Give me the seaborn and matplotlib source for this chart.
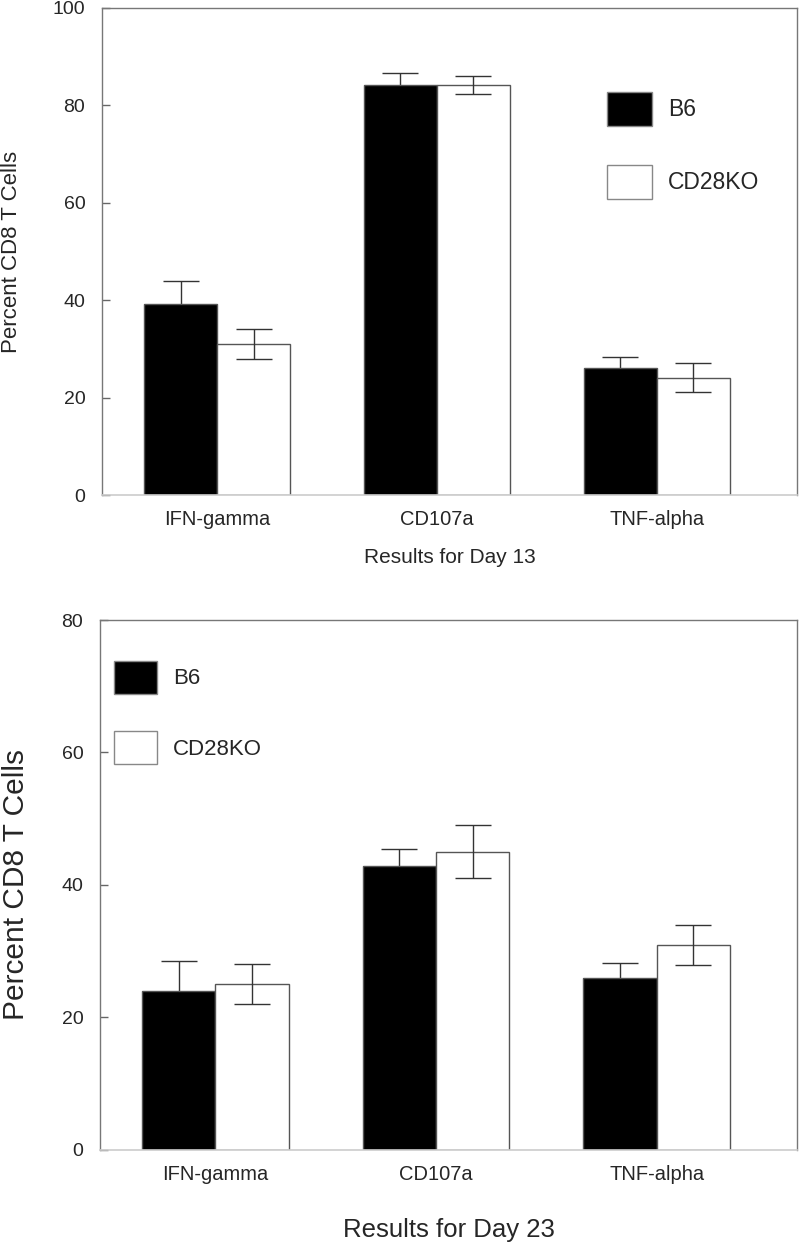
import numpy as np
import pandas as pd
import seaborn as sns
import matplotlib.pyplot as plt
from matplotlib.patches import Patch

# %%
markers = ['IFN-gamma', 'CD107a', 'TNF-alpha']
strains = ['B6', 'CD28KO']

day13_b6 = [39.3, 84.2, 26.0]
day13_b6_err = [4.6, 2.5, 2.4]
day13_ko = [31.0, 84.2, 24.1]
day13_ko_err = [3.1, 1.8, 3.0]

day23_b6 = [24.0, 42.9, 25.9]
day23_b6_err = [4.6, 2.6, 2.3]
day23_ko = [25.0, 45.0, 30.9]
day23_ko_err = [3.0, 4.0, 3.0]

# %%
sns.set_theme(style='white')
plt.rcParams['font.family'] = ['Liberation Sans', 'DejaVu Sans']

palette = {'B6': 'black', 'CD28KO': 'white'}
edge = '#555555'


def make_df(b6, ko):
    return pd.DataFrame({
        'marker': markers * 2,
        'strain': ['B6'] * 3 + ['CD28KO'] * 3,
        'value': b6 + ko,
    })


def draw_panel(ax, b6, b6_err, ko, ko_err, ymax, xlabel, label_fs, xlabel_y, ylabel_x,
               legend_anchor, legend_fs):
    df = make_df(b6, ko)
    sns.barplot(data=df, x='marker', y='value', hue='strain', order=markers,
                hue_order=strains, palette=palette, width=0.664, gap=0,
                edgecolor=edge, linewidth=1, errorbar=None, legend=False, ax=ax)
    # error bars: the B6 ones sit behind the black bars, CD28KO ones in front
    for cont, errs, z in zip(ax.containers, [b6_err, ko_err], [0.5, 3]):
        xs = [p.get_x() + p.get_width() / 2 for p in cont]
        ys = [p.get_height() for p in cont]
        ax.errorbar(xs, ys, yerr=errs, fmt='none', ecolor='#333333',
                    elinewidth=1, capsize=13, capthick=1, zorder=z)
    ax.set_xlim(-0.523, 2.636)
    ax.set_ylim(0, ymax)
    ax.set_yticks(np.arange(0, ymax + 1, 20))
    ax.tick_params(axis='y', direction='in', length=6, width=1, color='#666666',
                   labelsize=14, pad=12, left=True)
    ax.tick_params(axis='x', length=0, labelsize=14.5, pad=11)
    for side in ['top', 'left', 'right']:
        ax.spines[side].set_color('#777777')
        ax.spines[side].set_linewidth(1)
    ax.spines['bottom'].set_color('#cccccc')
    ax.spines['bottom'].set_linewidth(1.2)
    ax.set_xlabel(xlabel, fontsize=label_fs[0])
    ax.set_ylabel('Percent CD8 T Cells', fontsize=label_fs[1])
    ax.xaxis.set_label_coords(0.5, xlabel_y)
    ax.xaxis.label.set_va('top')
    ax.yaxis.set_label_coords(ylabel_x, 0.5)
    handles = [Patch(facecolor=palette[s], edgecolor='#888888', linewidth=1) for s in strains]
    ax.legend(handles, strains, loc='upper left', bbox_to_anchor=legend_anchor,
              frameon=False, fontsize=legend_fs, handlelength=1.95, handleheight=1.9,
              handletextpad=0.7, labelspacing=1.7, borderpad=0, borderaxespad=0)


fig = plt.figure(figsize=(8, 12.42), dpi=100)
ax1 = fig.add_axes([0.1275, 0.6014, 0.8685, 0.3922])
ax2 = fig.add_axes([0.125, 0.0741, 0.8713, 0.4267])

draw_panel(ax1, day13_b6, day13_b6_err, day13_ko, day13_ko_err, 100,
           'Results for Day 13', (15, 16), -0.108, -0.115, (0.727, 0.828), 16.5)
draw_panel(ax2, day23_b6, day23_b6_err, day23_ko, day23_ko_err, 80,
           'Results for Day 23', (18.5, 21.5), -0.128, -0.10, (0.02, 0.923), 16)

fig.savefig('out.png', dpi=100)
